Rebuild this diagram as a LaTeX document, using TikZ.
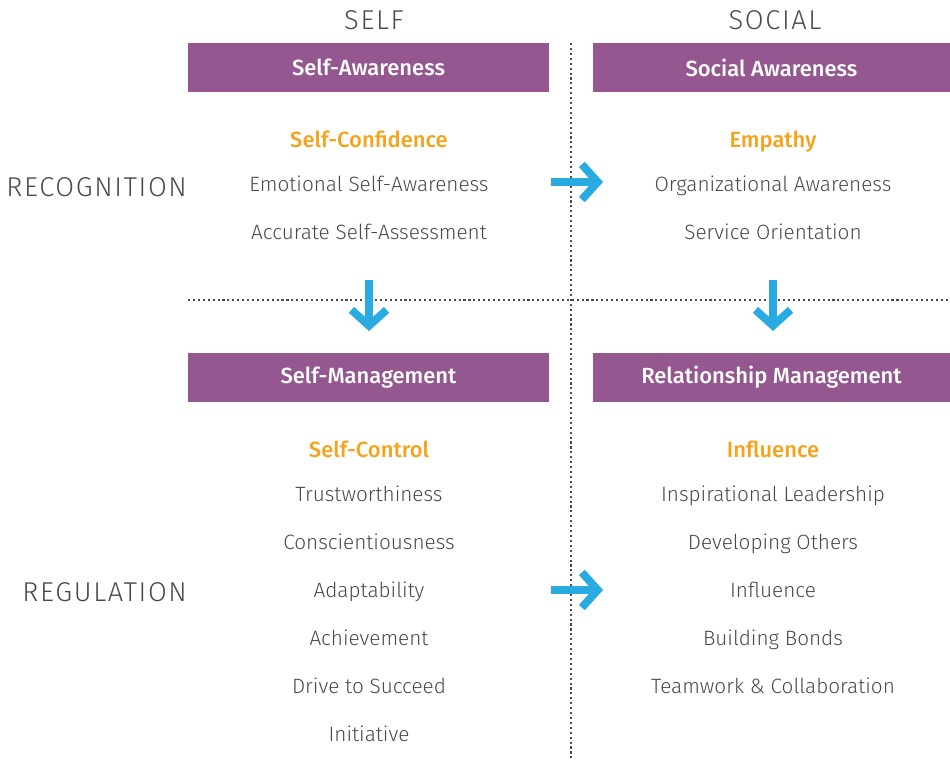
\documentclass[tikz,border=0pt]{standalone}
\usepackage{fontspec}
\setmainfont{Fira Sans}[UprightFont={* Light},BoldFont={* Medium}]
\usepackage{xcolor}
\usetikzlibrary{arrows.meta}

\definecolor{plum}{HTML}{945790}
\definecolor{amber}{HTML}{F7A21B}
\definecolor{ink}{HTML}{4A4A4A}
\definecolor{sky}{HTML}{29ABE2}

\tikzset{
	axis/.style={font=\fontsize{15.5}{18}\selectfont\addfontfeature{LetterSpace=6}, text=ink, text height=11pt, text depth=0pt},
	band/.style={fill=plum, text=white, font=\fontsize{12.5}{14}\selectfont\bfseries, minimum width=361*0.02cm, minimum height=49*0.02cm, inner sep=0pt},
	lead/.style={text=amber, font=\fontsize{12.5}{14}\selectfont\bfseries, text height=9pt, text depth=2.5pt},
	item/.style={text=ink, font=\fontsize{11.8}{14}\selectfont, text height=8.5pt, text depth=2.5pt},
	sep/.style={ink, line width=1.2pt, dash pattern=on 1.2pt off 1.6pt},
	push/.style={sky, line width=4.5pt, -{Straight Barb[length=9pt, width=20pt]}}
}

\begin{document}
\begin{tikzpicture}[x=0.02cm, y=-0.02cm]
			\useasboundingbox (0,0) rectangle (950,760);

			% Column and row titles
			\node[axis] (self) at (374,20) {SELF};
			\node[axis] (social) at (775,20) {SOCIAL};
			\node[axis, anchor=east] (recog) at (193,187) {RECOGNITION};
			\node[axis, anchor=east] (regul) at (193,592) {REGULATION};

			% Dotted quadrant lines
			\draw[sep] (571,43) -- (571,760);
			\draw[sep] (188,300) -- (950,300);

			% Purple headers
			\node[band] (selfaw) at (368.5,67.5) {Self-Awareness};
			\node[band, minimum width=357*0.02cm] (socaw) at (771.5,67.5) {Social Awareness};
			\node[band] (selfmg) at (368.5,377.5) {Self-Management};
			\node[band, minimum width=357*0.02cm] (relmg) at (771.5,377.5) {Relationship Management};

			% Competencies, self side
			\node[lead] (conf) at (369,142) {Self-Confidence};
			\foreach \t [count=\i] in {Emotional Self-Awareness, Accurate Self-Assessment}
			\node[item] (sa\i) at (369,138+48*\i) {\t};

			\node[lead] (ctrl) at (369,452) {Self-Control};
			\foreach \t [count=\i] in {Trustworthiness, Conscientiousness, Adaptability, Achievement, Drive to Succeed, Initiative}
			\node[item] (sm\i) at (369,448+48*\i) {\t};

			% Competencies, social side
			\node[lead] (emp) at (773,142) {Empathy};
			\foreach \t [count=\i] in {Organizational Awareness, Service Orientation}
			\node[item] (so\i) at (773,138+48*\i) {\t};

			\node[lead] (infl) at (773,452) {Influence};
			\foreach \t [count=\i] in {Inspirational Leadership, Developing Others, Influence, Building Bonds, Teamwork \& Collaboration}
			\node[item] (rm\i) at (773,448+48*\i) {\t};

			% Blue arrows
			\coordinate (r1a) at (551,182); \coordinate (r1b) at (603,182);
			\coordinate (r2a) at (551,590); \coordinate (r2b) at (603,590);
			\coordinate (d1a) at (369,280); \coordinate (d1b) at (369,331);
			\coordinate (d2a) at (773,280); \coordinate (d2b) at (773,331);
			\draw[push] (r1a) -- (r1b);
			\draw[push] (r2a) -- (r2b);
			\draw[push] (d1a) -- (d1b);
			\draw[push] (d2a) -- (d2b);
		\end{tikzpicture}
\end{document}
